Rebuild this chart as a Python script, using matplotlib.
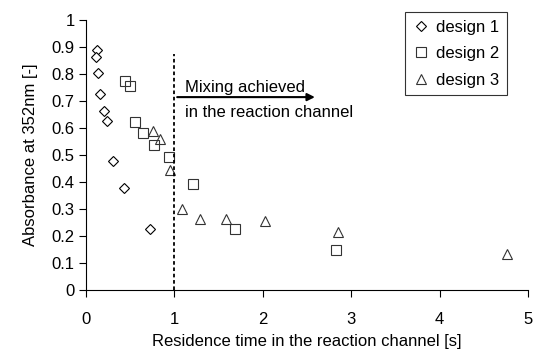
import numpy as np
import matplotlib
matplotlib.use("Agg")
import matplotlib.pyplot as plt

plt.rcParams['font.family'] = ['Liberation Sans', 'DejaVu Sans']

# design 1 (diamonds)
t1 = [0.12, 0.113, 0.14, 0.158, 0.20, 0.24, 0.31, 0.43, 0.72]
a1 = [0.891, 0.864, 0.806, 0.725, 0.663, 0.626, 0.48, 0.377, 0.228]
# design 2 (squares)
t2 = [0.445, 0.50, 0.56, 0.65, 0.765, 0.94, 1.21, 1.69, 2.83]
a2 = [0.774, 0.757, 0.621, 0.583, 0.539, 0.494, 0.393, 0.228, 0.148]
# design 3 (triangles)
t3 = [0.755, 0.84, 0.95, 1.09, 1.29, 1.58, 2.03, 2.85, 4.76]
a3 = [0.589, 0.558, 0.444, 0.30, 0.263, 0.263, 0.256, 0.216, 0.133]

fs = 12

fig = plt.figure(figsize=(5.34, 3.6), dpi=100)
ax = fig.add_axes([0.161, 0.194, 0.828, 0.75])

ax.plot(t1, a1, 'D', ms=5.5, mfc='white', mec='black', mew=0.8, ls='none', label='design 1')
ax.plot(t2, a2, 's', ms=6.5, mfc='none', mec='#333333', mew=0.8, ls='none', label='design 2')
ax.plot(t3, a3, '^', ms=7.5, mfc='none', mec='#333333', mew=0.8, ls='none', label='design 3')

# mixing line and arrow
ax.plot([1, 1], [0, 0.875], color='black', ls=(0, (2, 1.5)), lw=1.3)
ax.annotate('', xy=(2.62, 0.715), xytext=(1.0, 0.715),
            arrowprops=dict(arrowstyle='-|>', color='black', lw=1.5, mutation_scale=11))
ax.text(1.12, 0.733, 'Mixing achieved', fontsize=fs, va='baseline', ha='left')
ax.text(1.12, 0.643, 'in the reaction channel', fontsize=fs, va='baseline', ha='left')

ax.set_xlim(0, 5)
ax.set_ylim(0, 1)
ax.set_xticks(np.arange(0, 6, 1))
ax.set_yticks(np.round(np.arange(0, 1.01, 0.1), 1))
ax.set_yticklabels(['0', '0.1', '0.2', '0.3', '0.4', '0.5', '0.6', '0.7', '0.8', '0.9', '1'])
ax.spines['top'].set_visible(False)
ax.spines['right'].set_visible(False)
ax.tick_params(axis='x', direction='out', length=5, pad=11, labelsize=fs)
ax.tick_params(axis='y', direction='out', length=5, pad=3, labelsize=fs)
ax.set_xlabel('Residence time in the reaction channel [s]', fontsize=fs, labelpad=5)
ax.set_ylabel('Absorbance at 352nm [-]', fontsize=fs, labelpad=10)

leg = ax.legend(loc='upper right', bbox_to_anchor=(0.952, 1.03), frameon=True, fancybox=False,
                edgecolor='black', fontsize=fs, handlelength=1.0, handletextpad=0.4,
                borderpad=0.45, labelspacing=0.7, borderaxespad=0)
leg.get_frame().set_linewidth(0.8)

fig.savefig('out.png', dpi=100)
